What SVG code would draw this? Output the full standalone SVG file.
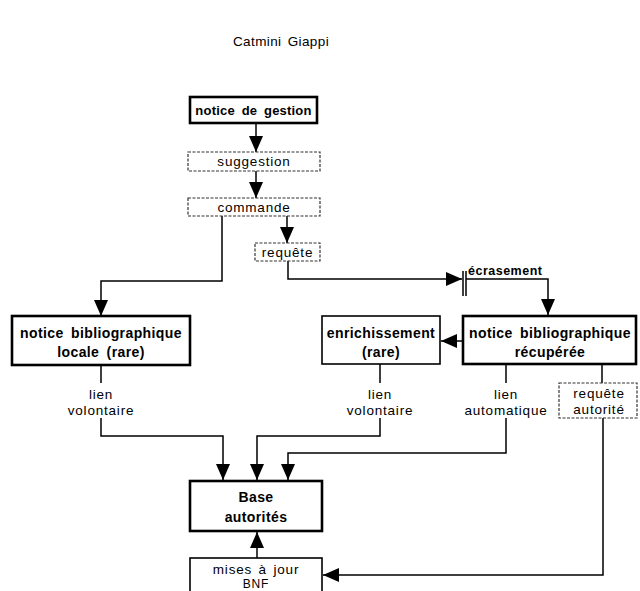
<svg xmlns="http://www.w3.org/2000/svg" width="640" height="591" viewBox="0 0 640 591">
<defs>
<marker id="ah" markerUnits="userSpaceOnUse" markerWidth="16" markerHeight="15" refX="16" refY="7" orient="auto">
<path d="M0,0 L16,7 L0,14 z" fill="#000"/>
</marker>
</defs>
<style>
.thick{fill:#fff;stroke:#000;stroke-width:2.6}
.thin{fill:#fff;stroke:#000;stroke-width:1.6}
.dash{fill:#fff;stroke:#333;stroke-width:1.2;stroke-dasharray:3 1.5}
.b{font-family:"Liberation Sans",Arial,sans-serif;font-weight:bold;font-size:14px;fill:#000;text-anchor:middle;word-spacing:3px;letter-spacing:0.4px}
.n{font-family:"Liberation Sans",Arial,sans-serif;font-size:13.5px;fill:#000;text-anchor:middle;letter-spacing:0.8px;word-spacing:2px}
.c{fill:none;stroke:#000;stroke-width:1.5}
</style>
<rect width="640" height="591" fill="#fff"/>
<text x="281" y="46" class="n" style="font-size:13.5px;letter-spacing:0.4px">Catmini  Giappi</text>
<g id="connectors">
<path class="c" d="M256,123 V152" marker-end="url(#ah)"/>
<path class="c" d="M256,171 V198" marker-end="url(#ah)"/>
<path class="c" d="M222,216 V281 H101 V316" marker-end="url(#ah)"/>
<path class="c" d="M287,216 V243" marker-end="url(#ah)"/>
<path class="c" d="M288,261 V279 H462" marker-end="url(#ah)"/>
<path class="c" d="M463,271 V296 M466,271 V296"/>
<path class="c" d="M466,279 H548 V315" marker-end="url(#ah)"/>
<path class="c" d="M463,341 H441" marker-end="url(#ah)"/>
<path class="c" d="M101,365 V383 M101,418 V436 H223 V480" marker-end="url(#ah)"/>
<path class="c" d="M380,364 V383 M380,418 V436 H257 V480" marker-end="url(#ah)"/>
<path class="c" d="M506,364 V383 M506,418 V453 H288 V480" marker-end="url(#ah)"/>
<path class="c" d="M602,364 V383 M603,418 V575 H323" marker-end="url(#ah)"/>
<path class="c" d="M257,558 V532" marker-end="url(#ah)"/>
</g>
<text x="468" y="275" class="b" style="font-size:12.5px;text-anchor:start;letter-spacing:0.5px">écrasement</text>
<g id="notice-gestion">
<rect x="190" y="97" width="127" height="26" class="thick"/>
<text x="253.5" y="115" class="b" style="font-size:13px;letter-spacing:0.2px">notice de gestion</text>
</g>
<g id="suggestion">
<rect x="188" y="152" width="132" height="19" class="dash"/>
<text x="254" y="166" class="n">suggestion</text>
</g>
<g id="commande">
<rect x="188" y="198" width="132" height="18" class="dash"/>
<text x="254" y="212" class="n">commande</text>
</g>
<g id="requete">
<rect x="255" y="243" width="65" height="18" class="dash"/>
<text x="287.5" y="257" class="n">requête</text>
</g>
<g id="notice-locale">
<rect x="12" y="316" width="178" height="49" class="thick"/>
<text x="101" y="338" class="b">notice bibliographique</text>
<text x="101" y="357" class="b">locale (rare)</text>
</g>
<g id="enrichissement">
<rect x="322" y="316" width="118" height="48" class="thin"/>
<text x="381" y="338" class="b">enrichissement</text>
<text x="381" y="357" class="b">(rare)</text>
</g>
<g id="notice-recuperee">
<rect x="463" y="316" width="173" height="48" class="thick"/>
<text x="550" y="338" class="b">notice bibliographique</text>
<text x="550" y="357" class="b">récupérée</text>
</g>
<g id="lien-volontaire-1">
<text x="101" y="399" class="n">lien</text>
<text x="101" y="415" class="n">volontaire</text>
</g>
<g id="lien-volontaire-2">
<text x="380" y="399" class="n">lien</text>
<text x="380" y="415" class="n">volontaire</text>
</g>
<g id="lien-automatique">
<text x="506" y="399" class="n">lien</text>
<text x="506" y="415" class="n">automatique</text>
</g>
<g id="requete-autorite">
<rect x="559" y="383" width="78" height="35" class="dash"/>
<text x="599" y="398" class="n">requête</text>
<text x="599" y="414" class="n">autorité</text>
</g>
<g id="base-autorites">
<rect x="190" y="481" width="132" height="50" class="thick"/>
<text x="256" y="502" class="b">Base</text>
<text x="256" y="522" class="b">autorités</text>
</g>
<g id="mises-a-jour">
<rect x="190" y="558" width="132" height="40" class="thin"/>
<text x="256" y="574" class="n">mises à jour</text>
<text x="256" y="588" class="n" style="font-size:12px">BNF</text>
</g>
</svg>
